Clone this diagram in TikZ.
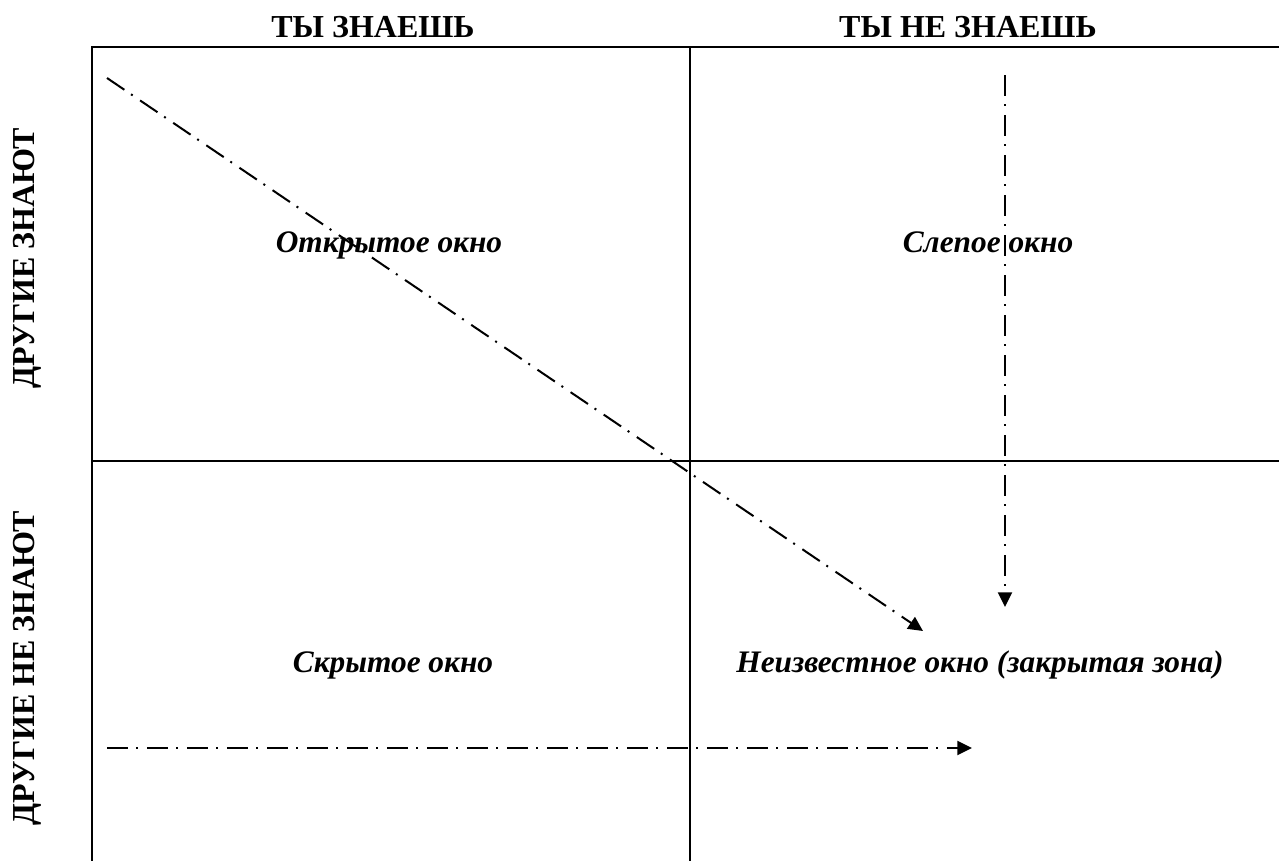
\documentclass[tikz,border=0pt]{standalone}
\usepackage{fontspec}
\setmainfont{Liberation Serif}
\usetikzlibrary{arrows.meta}

\tikzset{
  grid line/.style={line width=1.5pt},
  window arrow/.style={line width=1.5pt,
    dash pattern=on 15.75pt off 6pt on 1.5pt off 6.75pt,
    -{Triangle[length=11pt,width=10.5pt]}},
  head/.style={font=\fontsize{24}{28}\selectfont\bfseries, inner sep=0pt, anchor=base},
  side/.style={font=\fontsize{24}{28}\selectfont\bfseries, inner sep=0pt, rotate=90},
  window/.style={font=\fontsize{23.5}{28}\selectfont\bfseries\itshape, inner sep=0pt, anchor=base}
}

\begin{document}
\begin{tikzpicture}[x=0.75pt,y=-0.75pt]
  \useasboundingbox (0,0) rectangle (1279,861);
  \coordinate (tl) at (92,47);
  \coordinate (tr) at (1279,47);
  \coordinate (ml) at (92,461);
  \coordinate (mr) at (1279,461);
  \coordinate (bl) at (92,861);
  \coordinate (tm) at (690,47);
  \coordinate (bm) at (690,861);
  \draw[grid line] (tr) -- (tl) -- (bl);
  \draw[grid line] (ml) -- (mr);
  \draw[grid line] (tm) -- (bm);
  \node[head] (know) at (373,37) {ТЫ ЗНАЕШЬ};
  \node[head] (dontknow) at (968,37) {ТЫ НЕ ЗНАЕШЬ};
  \node[side] (othersknow) at (27,258) {ДРУГИЕ ЗНАЮТ};
  \node[side] (othersdont) at (27,668) {ДРУГИЕ НЕ ЗНАЮТ};
  \node[window] (open) at (389,252) {Открытое окно};
  \node[window] (blind) at (988,252) {Слепое окно};
  \node[window] (hidden) at (393,672) {Скрытое окно};
  \node[window] (unknown) at (980,672) {Неизвестное окно (закрытая зона)};
  \coordinate (d0) at (107,78);
  \coordinate (d1) at (923,631);
  \coordinate (v0) at (1005,75);
  \coordinate (v1) at (1005,607);
  \coordinate (h0) at (107,748);
  \coordinate (h1) at (972,748);
  \draw[window arrow] (d0) -- (d1);
  \draw[window arrow] (v0) -- (v1);
  \draw[window arrow] (h0) -- (h1);
\end{tikzpicture}
\end{document}
